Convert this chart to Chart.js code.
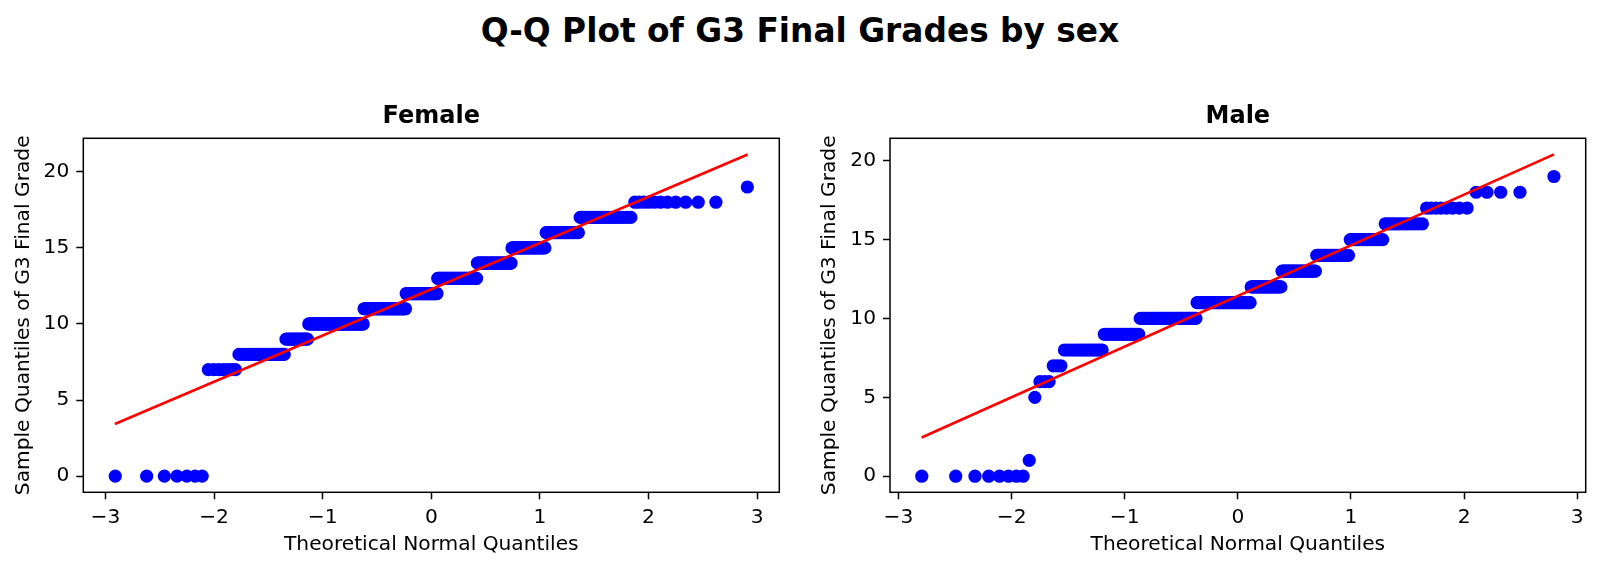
<!DOCTYPE html>
<html>
<head>
<meta charset="utf-8">
<script src="https://cdn.jsdelivr.net/npm/chart.js@4.4.1/dist/chart.umd.min.js"></script>
<style>
  html, body { margin: 0; padding: 0; background: #fff; }
  #wrap { position: relative; width: 1600px; height: 571px; overflow: hidden; }
  #suptitle { position: absolute; left: 0; top: 15px; width: 1600px; text-align: center;
              font: bold 32.8px 'DejaVu Sans'; line-height: 32.8px; color: #000; }
  canvas { position: absolute; top: 0; }
</style>
</head>
<body>
<div id="wrap">
  <div id="suptitle">Q-Q Plot of G3 Final Grades by sex</div>
  <canvas id="chartF" width="800" height="571" style="left:0px"></canvas>
  <canvas id="chartM" width="800" height="571" style="left:800px"></canvas>
</div>
<script>
// grade levels, and how many students sit on each level (read from the strips)
const grades       = [0, 1, 5, 6, 7, 8, 9, 10, 11, 12, 13, 14, 15, 16, 17, 18, 19];
const femaleCounts = [7, 0, 0, 0, 7, 20, 15, 53, 54, 44, 54, 41, 32, 23, 21, 11, 1];
const maleCounts   = [8, 1, 1, 3, 3, 15, 20, 44, 50, 28, 28, 22, 17, 13, 8, 4, 1];

// red reference line, end points [x, y]
const femaleLine = [[-2.913, 3.43], [2.913, 21.14]];
const maleLine   = [[-2.795, 2.46], [2.795, 20.40]];

const xTicks = [-3, -2, -1, 0, 1, 2, 3];
const yTicks = [0, 5, 10, 15, 20];

const FONT = "'DejaVu Sans'";

// inverse normal cdf (Acklam)
function probit(p) {
    const a = [-3.969683028665376e+01, 2.209460984245205e+02, -2.759285104469687e+02, 1.383577518672690e+02, -3.066479806614716e+01, 2.506628277459239e+00];
    const b = [-5.447609879822406e+01, 1.615858368580409e+02, -1.556989798598866e+02, 6.680131188771972e+01, -1.328068155288572e+01];
    const c = [-7.784894002430293e-03, -3.223964580411365e-01, -2.400758277161838e+00, -2.549732539343734e+00, 4.374664141464968e+00, 2.938163982698783e+00];
    const d = [7.784695709041462e-03, 3.224671290700398e-01, 2.445134137142996e+00, 3.754408661907416e+00];
    const pl = 0.02425;
    if (p < pl) {
        const q = Math.sqrt(-2 * Math.log(p));
        return (((((c[0]*q+c[1])*q+c[2])*q+c[3])*q+c[4])*q+c[5]) / ((((d[0]*q+d[1])*q+d[2])*q+d[3])*q+1);
    }
    if (p > 1 - pl) {
        const q = Math.sqrt(-2 * Math.log(1 - p));
        return -(((((c[0]*q+c[1])*q+c[2])*q+c[3])*q+c[4])*q+c[5]) / ((((d[0]*q+d[1])*q+d[2])*q+d[3])*q+1);
    }
    const q = p - 0.5, r = q * q;
    return (((((a[0]*r+a[1])*r+a[2])*r+a[3])*r+a[4])*r+a[5])*q / (((((b[0]*r+b[1])*r+b[2])*r+b[3])*r+b[4])*r+1);
}

// Filliben plotting positions (what scipy's probplot uses)
function plotPositions(n) {
    const m = [];
    for (let i = 1; i <= n; i++) m.push((i - 0.3175) / (n + 0.365));
    m[n - 1] = Math.pow(0.5, 1 / n);
    m[0] = 1 - m[n - 1];
    return m;
}

function qqPoints(counts) {
    const sorted = [];
    grades.forEach((g, k) => { for (let j = 0; j < counts[k]; j++) sorted.push(g); });
    const pos = plotPositions(sorted.length);
    return sorted.map((g, i) => ({ x: probit(pos[i]), y: g }));
}

//  frame + panel title
const panelDeco = {
    id: 'panelDeco',
    afterDraw(chart, args, opts) {
        const { ctx, chartArea: { left, right, top, bottom } } = chart;
        ctx.save();
        ctx.strokeStyle = '#000';
        ctx.lineWidth = 1.5;
        ctx.strokeRect(left, top, right - left, bottom - top);
        ctx.font = 'bold 24px ' + FONT;
        ctx.textAlign = 'center';
        ctx.fillStyle = '#000';
        ctx.fillText(opts.text, (left + right) / 2, top - 15);
        ctx.restore();
    }
};

function makePanel(canvasId, title, counts, line, xRange, yRange, padLeft, padRight) {
    const tickFont = { family: FONT, size: 20.2 };
    const config = {
        data: {
            datasets: [
                {
                    type: 'line',
                    data: line.map(p => ({ x: p[0], y: p[1] })),
                    borderColor: '#ff0000',
                    borderWidth: 2.7,
                    pointRadius: 0,
                    fill: false
                },
                {
                    type: 'scatter',
                    data: qqPoints(counts),
                    backgroundColor: '#0000ff',
                    borderColor: '#0000ff',
                    borderWidth: 0,
                    pointRadius: 6.6
                }
            ]
        },
        options: {
            responsive: false,
            animation: false,
            events: [],
            devicePixelRatio: 1,
            layout: { padding: { left: padLeft, right: padRight, top: 138.3, bottom: 0 } },
            plugins: {
                legend: { display: false },
                tooltip: { enabled: false },
                panelDeco: { text: title }
            },
            scales: {
                x: {
                    type: 'linear',
                    min: xRange[0], max: xRange[1],
                    afterBuildTicks: s => { s.ticks = xTicks.map(v => ({ value: v })); },
                    afterFit: s => { s.height = 78.7; },
                    border: { display: false },
                    grid: { drawOnChartArea: false, drawTicks: true, tickLength: 7, tickColor: '#000', tickWidth: 1.5 },
                    ticks: {
                        padding: 6.5, color: '#000', font: tickFont, maxRotation: 0,
                        callback: v => String(v).replace('-', '\u2212')
                    },
                    title: {
                        display: true, text: 'Theoretical Normal Quantiles', color: '#000',
                        font: tickFont, padding: { top: 0, bottom: 13.9 }
                    }
                },
                y: {
                    type: 'linear',
                    min: yRange[0], max: yRange[1],
                    afterBuildTicks: s => { s.ticks = yTicks.map(v => ({ value: v })); },
                    afterFit: s => { s.width = 83.3; },
                    border: { display: false },
                    grid: { drawOnChartArea: false, drawTicks: true, tickLength: 7, tickColor: '#000', tickWidth: 1.5 },
                    ticks: { padding: 7, color: '#000', font: tickFont },
                    title: {
                        display: true, text: 'Sample Quantiles of G3 Final Grade', color: '#000',
                        font: tickFont, padding: { top: 11.2, bottom: 0 }
                    }
                }
            }
        },
        plugins: [panelDeco]
    };
    return new Chart(document.getElementById(canvasId), config);
}

makePanel('chartF', 'Female', femaleCounts, femaleLine, [-3.204, 3.204], [-1.06, 22.2], 0, 20.7);
makePanel('chartM', 'Male', maleCounts, maleLine, [-3.075, 3.075], [-1.02, 21.42], 6.7, 14.3);
</script>
</body>
</html>
